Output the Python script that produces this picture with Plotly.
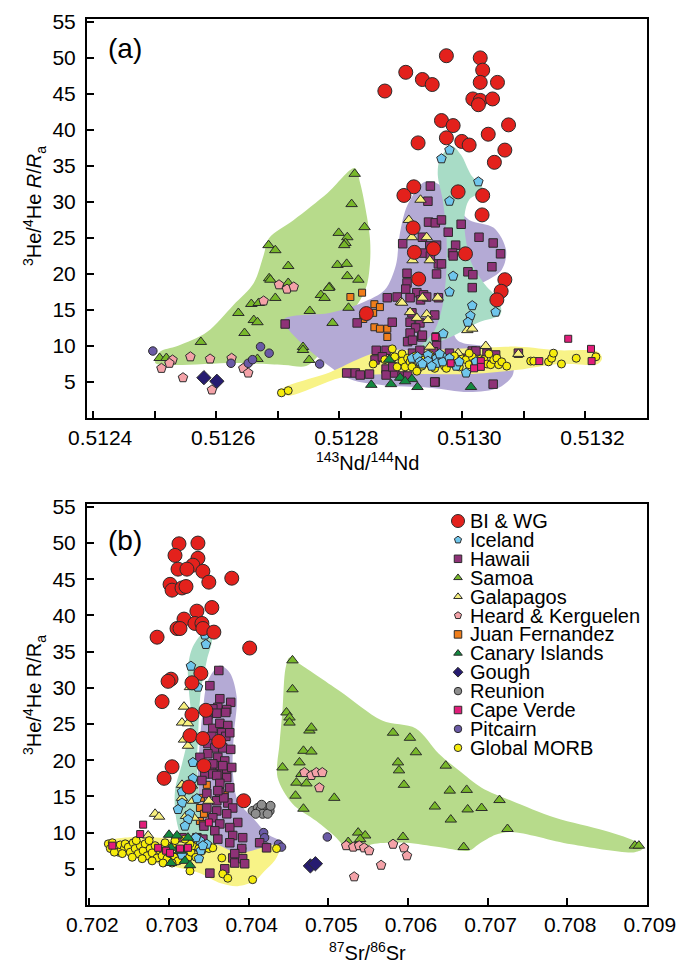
import plotly.graph_objects as go

# page body has an 8px margin: the figure is sized so it ends at the window edge
PAGE_W, PAGE_H, OFF = 694, 964, 8
W, H = PAGE_W - OFF, PAGE_H - OFF
FONT = "Liberation Sans, Arial, sans-serif"

# ---------------- panel (a): 3He/4He vs 143Nd/144Nd ----------------
biwg_a_nd = [0.512974,0.513029,0.513033,0.512908,0.512935,0.512951,0.512874,0.513029,0.513057,0.513017,
             0.513029,0.513026,0.513049,0.512966,0.512985,0.513075,0.512974,0.513042,0.512928,0.512999,
             0.513011,0.513069,0.513052,0.512993,0.513033,0.512921,0.512905,0.513032,0.512920,0.512953,
             0.512922,0.513005,0.512929,0.513069,0.513063,0.513056,0.512844]
biwg_a_he = [50.3,50.0,48.3,48.0,47.0,46.3,45.4,46.6,46.6,44.3,44.1,43.5,44.3,41.3,40.6,40.7,38.9,39.4,38.2,38.4,
             37.9,37.2,35.5,31.4,30.9,32.1,30.9,28.2,26.4,23.5,23.0,22.8,19.3,19.2,17.6,16.4,14.5]

iceland_a_nd = [0.512979,0.512966,0.513026,0.512979,0.512985,0.512979,0.513016,0.513013,0.513009,0.513054,
                0.512969,0.512918,0.512927,0.512931,0.512944,0.512944,0.512958,0.512958,0.512968,0.512968,
                0.512979,0.512990,0.512995,0.513006,0.513022,0.512935,0.512963,0.512950]
iceland_a_he = [37.2,36.0,32.8,30.1,19.7,17.5,15.6,14.2,13.3,14.7,11.7,8.3,8.5,7.8,8.75,7.9,8.3,7.6,8.5,7.8,
                8.3,7.2,7.8,6.25,7.8,7.5,8.9,7.2]

hawaii_a_nd = [0.512948,0.512944,0.512945,0.512956,0.512966,0.512977,0.512998,0.513027,0.513050,0.513062,
               0.512989,0.512984,0.512985,0.512961,0.512966,0.512958,0.512947,0.512937,0.512948,0.512903,
               0.513009,0.513017,0.513048,0.513016,0.512958,0.512910,0.512910,0.512908,0.512926,0.512932,
               0.512915,0.512937,0.512961,0.512878,0.512894,0.512942,0.512935,
               0.512886,0.512829,0.512918,0.512915,0.512931,0.512924,0.512915,0.512911,0.512934,0.512958,
               0.512958,0.512955,0.512935,0.512919,0.512712,
               0.512860,0.512876,0.512858,0.512870,0.512812,0.512826,0.512834,0.512849,0.512876,0.512876,
               0.512890,0.512902,0.512911,0.512887,0.512956,0.513050,0.513016,0.513022,0.513040,0.513054,
               0.513091,0.512919,0.512931,0.512953,0.512979,0.513003,0.512955]
hawaii_a_he = [32.2,30.1,27.2,27.1,27.5,25.8,26.9,25.1,24.3,22.8,
               24.0,22.9,22.5,21.4,21.4,24.0,23.9,22.9,22.5,24.2,
               20.3,19.9,21.0,18.1,20.0,20.1,18.75,17.9,17.4,16.4,
               16.7,17.1,16.7,16.7,16.8,16.8,25.1,
               13.3,13.2,14.6,13.3,13.2,12.5,11.8,10.6,11.25,10.1,
               11.25,14.3,11.5,10.8,13.05,
               9.4,9.4,8.06,8.5,6.25,6.25,5.97,6.1,6.8,5.97,
               6.25,5.83,5.83,7.1,5.0,4.7,9.3,9.3,9.0,8.75,
               9.0,9.0,9.4,9.2,9.0,8.3,5.0]

samoa_a_nd = [0.512508,0.512519,0.512575,0.512636,0.512646,0.512657,0.512669,0.512661,0.512667,0.512685,
              0.512696,0.512686,0.512688,0.512717,0.512717,0.512696,0.512667,0.512741,0.512741,0.512751,
              0.512752,0.512770,0.512776,0.512784,0.512789,0.512797,0.512812,0.512813,0.512799,0.512813,
              0.512810,0.512815,0.512825,0.512820,0.512841,0.512808,0.512831,0.512783]
samoa_a_he = [8.33,8.33,10.56,14.58,11.8,15.83,15.97,13.6,13.3,24.0,
              23.3,19.4,19.2,21.1,18.75,16.67,8.2,9.86,9.44,8.06,
              14.86,17.08,16.67,18.2,13.2,21.25,21.4,19.7,25.7,25.1,
              24.3,15.3,33.9,29.7,26.5,24.0,19.2,18.06]

galapagos_a_nd = [0.512932,0.512913,0.512918,0.512942,0.512919,0.512947,0.512900,0.512935,0.512960,0.512926,
                  0.512942,0.512944,0.512915,0.512902,0.513008,0.513016,0.513038,0.513091,0.512993,0.512947,0.512882]
galapagos_a_he = [30.3,27.5,25.1,25.1,21.9,21.9,16.1,16.7,16.7,13.9,
                  14.4,13.6,14.7,16.0,12.2,12.4,10.0,8.9,9.0,9.9,8.1]

heard_a_nd = [0.512529,0.512524,0.512511,0.512546,0.512558,0.512590,0.512625,0.512644,0.512652,0.512593,
              0.512677,0.512702,0.512715,0.512726]
heard_a_he = [8.06,7.6,6.9,5.6,8.5,8.2,8.3,6.9,6.25,3.9,16.25,18.5,17.9,18.2]

juan_a_nd = [0.512818,0.512837,0.512857,0.512866,0.512855,0.512839,0.512857,0.512866,0.512878,0.512878,0.512870]
juan_a_he = [16.8,17.4,15.8,15.4,14.6,13.75,12.6,12.4,12.4,11.25,8.3]

canary_a_nd = [0.512852,0.512884,0.512899,0.512918,0.512927,0.513014,0.512881,0.512907]
canary_a_he = [4.6,4.7,5.6,5.4,4.3,4.3,8.1,5.1]

gough_a_nd = [0.512580,0.512601]
gough_a_he = [5.6,5.1]

pitcairn_a_nd = [0.512497,0.512624,0.512652,0.512659,0.512672,0.512686,0.512768]
pitcairn_a_he = [9.3,7.6,7.6,8.1,9.9,9.0,7.5]

capeverde_a_nd = [0.512956,0.513172,0.513209,0.513125,0.513210,0.512981,0.513030,0.513030,0.513019]
capeverde_a_he = [11.25,11.0,9.6,7.9,7.9,7.6,7.9,7.1,6.9]

morb_a_nd = [0.512706,0.512717,0.512855,0.512886,0.512894,0.512902,0.512902,0.512907,0.512911,0.512915,
             0.512919,0.512927,0.512918,0.512934,0.512926,0.512939,0.512947,0.512955,0.512963,0.512971,
             0.512974,0.512982,0.512990,0.512995,0.513000,0.513006,0.513011,0.513016,0.513021,0.513026,
             0.513030,0.513035,0.513040,0.513046,0.513051,0.513056,0.513059,0.513064,0.513072,0.513111,
             0.513116,0.513140,0.513145,0.513148,0.513161,0.513185,0.513217,0.512947,0.512960,0.513011,
             0.512923,0.512890,0.512874,0.512987,0.513043]
morb_a_he = [3.5,3.8,7.5,9.6,7.1,8.9,7.9,7.1,8.3,7.8,
             7.1,6.7,7.1,7.2,6.5,8.1,7.5,6.9,7.8,7.2,
             6.9,7.6,7.8,7.1,8.2,8.1,7.4,8.5,7.8,7.2,
             8.2,8.1,7.5,7.4,8.1,8.3,7.4,7.8,7.2,7.9,
             7.9,7.8,8.3,9.0,7.5,8.3,8.5,8.8,8.5,9.0,
             8.6,8.5,8.1,8.6,8.9]

# field outlines (a)
samoa_field_a_nd = [0.512501,0.512508,0.512537,0.512585,0.512628,0.512661,0.512677,0.512686,0.512726,0.512781,
                    0.512825,0.512834,0.512845,0.512850,0.512850,0.512845,0.512834,0.512810,0.512791,0.512767,
                    0.512746,0.512710,0.512630,0.512529]
samoa_field_a_he = [7.64,9.17,10.0,11.94,15.7,18.75,22.6,25.0,27.5,31.25,
                    34.7,32.6,27.9,24.7,21.7,18.5,16.4,13.6,11.5,8.75,
                    7.22,7.36,7.64,7.36]
hawaii_field_a_nd = [0.512710,0.512786,0.512837,0.512874,0.512892,0.512898,0.512911,0.512939,0.512963,0.512982,
                     0.513011,0.513051,0.513071,0.513064,0.513035,0.512998,0.512982,0.512992,0.513043,0.513079,
                     0.513082,0.513059,0.513011,0.512947,0.512866,0.512810]
hawaii_field_a_he = [13.6,14.6,16.0,17.8,21.25,25.4,29.6,32.8,32.4,30.3,
                     27.5,26.4,23.3,20.6,18.9,17.5,14.3,10.8,9.9,8.75,
                     6.0,4.2,3.6,4.2,4.6,5.7]
iceland_field_a_nd = [0.512963,0.512982,0.512998,0.513014,0.513034,0.513011,0.513003,0.513014,0.513037,0.513059,
                      0.513062,0.513027,0.512987,0.512931,0.512955,0.512968,0.512974,0.512974,0.512968,0.512960]
iceland_field_a_he = [35.8,37.8,36.5,33.75,31.7,30.3,27.5,21.7,18.5,16.4,
                      14.4,13.3,11.5,9.7,12.2,15.7,20.6,25.4,30.3,33.75]
morb_field_a_nd = [0.512702,0.512709,0.512786,0.512834,0.512874,0.512931,0.513011,0.513091,0.513156,0.513220,
                   0.513227,0.513220,0.513156,0.513091,0.513011,0.512931,0.512850,0.512802,0.512718]
morb_field_a_he = [3.5,4.2,6.4,8.3,9.4,9.4,9.7,9.9,9.4,9.2,
                   8.3,7.5,7.5,6.7,6.1,6.1,6.0,5.6,3.1]

# ---------------- panel (b): 3He/4He vs 87Sr/86Sr ----------------
biwg_b_sr = [0.703125,0.703363,0.703075,0.703363,0.703300,0.703113,0.703225,0.703425,0.703500,0.703788,
             0.703013,0.703038,0.703163,0.703213,0.703538,0.703350,0.703188,0.703325,0.703413,0.703425,
             0.703100,0.703563,0.702850,0.704013,0.703025,0.702988,0.703400,0.703288,0.702913,0.703463,
             0.703288,0.703263,0.703425,0.703625,0.703038,0.702938,0.703438,0.703250,0.703938,0.703138]
biwg_b_he = [49.9,50.0,48.3,47.9,46.95,46.4,46.4,46.1,44.6,45.15,
             44.3,43.5,43.8,44.0,41.1,40.6,39.5,38.9,38.9,38.2,
             38.2,37.7,37.0,35.5,31.2,30.9,32.0,30.7,28.1,26.9,
             26.3,23.4,23.0,22.6,19.1,17.5,19.25,16.3,14.4,38.2]

iceland_b_sr = [0.703450,0.703463,0.703275,0.703363,0.703300,0.703300,0.703163,0.703163,0.703350,0.703263,
                0.703238,0.703200,0.703388,0.703475,0.703163,0.703375,0.703338,0.703400,0.703113,0.703425]
iceland_b_he = [37.3,36.0,33.0,30.1,19.7,17.5,15.65,14.1,14.7,12.6,
                11.8,10.9,8.9,8.4,6.9,6.4,9.3,7.5,13.2,8.2]

hawaii_b_sr = [0.703625,0.703513,0.703638,0.703775,0.703613,0.703725,0.703550,0.703488,0.703600,0.703713,
               0.703488,0.703550,0.703638,0.703738,0.703663,0.703713,0.703763,0.703538,0.703488,0.703575,
               0.703675,0.703775,0.703488,0.703613,0.703700,0.703638,0.703513,0.703450,0.703550,0.703663,
               0.703725,0.703388,0.703550,0.703675,0.703788,0.703600,0.703725,0.703413,0.703638,0.703763,
               0.703475,0.703638,0.703600,0.703738,0.703800,0.703475,0.703600,0.703725,0.703550,0.703638,
               0.703863,0.703438,0.703575,0.703763,0.703800,0.703925,0.703163,0.703263,0.703350,0.703425,
               0.703613,0.703763,0.703913,0.703800,0.703825,0.703925,0.703950,0.703700,0.703513,0.704138,
               0.704225,0.703825,0.703688,0.703613]
hawaii_b_he = [32.4,30.3,28.5,28.0,27.3,27.0,27.1,26.3,26.5,26.6,
               25.5,24.4,25.1,24.8,23.8,23.3,23.8,23.3,22.3,21.7,
               21.7,21.5,20.9,20.4,19.9,19.25,19.0,18.1,18.1,18.1,
               18.8,20.4,19.5,19.25,19.0,17.9,17.6,17.2,16.8,16.2,
               15.4,15.5,14.4,14.1,13.4,13.4,13.0,12.6,12.05,11.2,
               11.4,10.9,10.25,10.7,9.6,9.3,9.3,8.9,9.3,9.1,
               9.1,8.6,7.8,6.5,5.8,6.4,5.7,5.0,4.4,8.6,
               7.9,7.1,14.8,15.8]

samoa_b_sr = [0.704550,0.704550,0.704475,0.704513,0.704513,0.704763,0.704788,0.704688,0.704788,0.704638,
              0.704425,0.704663,0.704600,0.704725,0.704588,0.705075,0.704688,0.705813,0.706025,0.706100,
              0.705875,0.705888,0.705950,0.706475,0.706525,0.706738,0.706338,0.706750,0.706925,0.707150,
              0.706538,0.707250,0.705375,0.705463,0.705400,0.705338,0.705938,0.706700,0.708850,0.708900,
              0.705250]
samoa_b_he = [33.8,29.8,26.6,25.9,25.2,24.1,24.5,21.3,21.2,19.7,
              19.0,18.1,16.9,16.8,15.1,14.8,13.3,23.8,23.1,21.1,
              19.7,18.6,16.6,19.25,15.8,15.9,13.6,13.2,13.4,14.5,
              11.8,10.5,10.0,9.6,9.1,8.0,9.4,8.0,8.2,8.2,
              8.7]

galapagos_b_sr = [0.703263,0.703188,0.703163,0.703238,0.703188,0.703238,0.703163,0.703288,0.703300,0.703500,
                  0.703163,0.702825,0.702875,0.702738,0.703213,0.703313]
galapagos_b_he = [30.1,27.4,25.2,25.1,22.85,22.0,16.6,16.5,14.4,14.4,
                  14.8,12.6,12.2,9.6,12.3,12.05]

heard_b_sr = [0.704700,0.704788,0.704850,0.704925,0.704888,0.705225,0.705313,0.705388,0.705450,0.705513,
              0.705813,0.705950,0.705988,0.705663,0.705325]
heard_b_he = [18.3,17.9,18.3,18.3,16.2,8.2,8.0,8.2,7.9,7.5,8.4,7.9,6.8,5.5,3.9]

juan_b_sr = [0.703475,0.703400,0.703388,0.703463,0.703438,0.703388,0.703700,0.703425]
juan_b_he = [16.6,14.8,13.4,13.4,12.6,11.6,15.2,11.2]

canary_b_sr = [0.703000,0.703100,0.703238,0.703025,0.703200,0.703263,0.703025,0.703138]
canary_b_he = [9.7,9.6,9.3,5.8,6.1,5.5,7.9,7.5]

gough_b_sr = [0.704775,0.704838]
gough_b_he = [5.4,5.7]

reunion_b_sr = [0.704050,0.704113,0.704150,0.704213,0.704263,0.704175,0.704238,0.704088,0.704275,0.704163]
reunion_b_he = [13.0,13.4,13.2,13.4,13.0,12.6,12.6,12.6,13.7,13.85]

capeverde_b_sr = [0.702675,0.702638,0.702288,0.702863,0.702963,0.703138,0.703500,0.703238,0.703013]
capeverde_b_he = [11.1,9.8,8.2,7.9,7.5,7.8,11.4,7.9,7.2]

pitcairn_b_sr = [0.704188,0.704200,0.704225,0.703913,0.704375,0.704413,0.704988]
pitcairn_b_he = [10.0,9.3,8.0,7.8,8.4,8.0,9.4]

morb_b_sr = [0.702238,0.702288,0.702338,0.702388,0.702438,0.702363,0.702450,0.702488,0.702513,0.702550,
             0.702575,0.702613,0.702638,0.702675,0.702700,0.702725,0.702763,0.702788,0.702825,0.702850,
             0.702888,0.702913,0.702950,0.702975,0.703013,0.703038,0.703075,0.703113,0.703138,0.703175,
             0.703213,0.703238,0.703275,0.703313,0.703338,0.703375,0.703413,0.703450,0.703500,0.703550,
             0.702263,0.702413,0.702538,0.702663,0.702788,0.702925,0.702588,0.702750,0.703075,0.703263,
             0.703038,0.703263,0.703663,0.703675,0.703738,0.704050,0.704350,0.703200,0.703363,0.702313]
morb_b_he = [8.45,8.6,8.0,8.3,7.8,7.3,8.45,8.0,7.3,8.6,
             7.8,7.1,8.2,7.5,8.45,6.8,7.8,7.2,8.2,6.5,
             7.5,6.8,8.6,6.4,7.1,8.2,6.6,6.1,7.3,6.9,
             7.8,6.5,7.3,8.2,6.6,7.8,7.5,8.0,7.8,7.9,
             7.8,7.1,6.6,6.4,6.1,5.8,8.9,8.9,8.9,8.45,
             5.8,4.7,6.5,4.3,3.7,3.5,7.8,9.1,8.9,7.3]

# field outlines (b)
samoa_field_b_sr = [0.704513,0.704613,0.705138,0.705675,0.706100,0.706388,0.706638,0.706925,0.707300,0.707850,
                    0.708475,0.708888,0.708950,0.708850,0.708050,0.707300,0.707100,0.706888,0.706763,0.706388,
                    0.705975,0.705550,0.705300,0.705225,0.705100,0.704850,0.704550,0.704363,0.704388,0.704425,
                    0.704463]
samoa_field_b_he = [34.2,33.5,29.6,25.5,24.4,20.9,18.6,16.2,14.4,12.05,
                    10.25,8.6,7.8,7.3,8.4,10.1,9.7,8.4,7.5,8.0,
                    8.6,8.4,7.5,7.8,9.3,11.6,14.0,17.6,22.3,26.9,
                    32.7]
hawaii_field_b_sr = [0.703638,0.703763,0.703850,0.703813,0.703800,0.703863,0.704050,0.704238,0.704413,0.704263,
                     0.704050,0.703888,0.703725,0.703550,0.703450,0.703325,0.703138,0.703113,0.703325,0.703388,
                     0.703363,0.703388,0.703425,0.703488]
hawaii_field_b_he = [33.1,32.1,28.7,23.4,18.6,14.4,12.05,9.8,8.6,7.3,
                     6.5,4.85,4.2,4.7,5.8,7.5,8.2,9.6,10.25,13.0,
                     17.6,22.7,26.9,31.0]
iceland_field_b_sr = [0.703450,0.703538,0.703475,0.703400,0.703375,0.703363,0.703350,0.703375,0.703400,0.703513,
                      0.703600,0.703488,0.703363,0.703263,0.703163,0.703088,0.703075,0.703163,0.703225,0.703275,
                      0.703250,0.703238,0.703300]
iceland_field_b_he = [37.7,37.0,33.8,29.6,25.9,22.7,19.9,15.8,12.7,10.9,
                      9.1,7.2,5.8,6.5,8.9,12.05,15.8,19.5,22.4,25.9,
                      29.6,32.8,35.7]
morb_field_b_sr = [0.702200,0.702550,0.702888,0.703263,0.703575,0.703863,0.704138,0.704338,0.704388,0.704325,
                   0.704200,0.704075,0.703863,0.703650,0.703388,0.703138,0.702888,0.702550,0.702263]
morb_field_b_he = [8.7,9.4,9.3,8.9,8.45,7.2,7.8,8.3,7.8,6.1,
                   4.7,3.3,2.6,3.0,4.4,5.1,5.7,6.5,7.6]

# ---------------- ticks ----------------
nd_major = [0.5124,0.5126,0.5128,0.5130,0.5132]
nd_major_labels = ["0.5124","0.5126","0.5128","0.5130","0.5132"]
nd_minor = [0.5125,0.5127,0.5129,0.5131]
sr_ticks = [0.702,0.703,0.704,0.705,0.706,0.707,0.708,0.709]
sr_labels = ["0.702","0.703","0.704","0.705","0.706","0.707","0.708","0.709"]
he_ticks = [5,10,15,20,25,30,35,40,45,50,55]
he_labels = [str(v) for v in he_ticks]

# ---------------- styles ----------------
names = ["BI & WG","Iceland","Hawaii","Samoa","Galapagos","Heard & Kerguelen","Juan Fernandez",
         "Canary Islands","Gough","Reunion","Cape Verde","Pitcairn","Global MORB"]
style = {
    "BI & WG":           dict(symbol="circle",        color="#e3211c", size=14),
    "Iceland":           dict(symbol="pentagon",      color="#6fc6ec", size=10),
    "Hawaii":            dict(symbol="square",        color="#8e3277", size=8.5),
    "Samoa":             dict(symbol="triangle-up",   color="#78b82a", size=10),
    "Galapagos":         dict(symbol="triangle-up",   color="#f7f07e", size=10),
    "Heard & Kerguelen": dict(symbol="pentagon",      color="#f4a2a8", size=10),
    "Juan Fernandez":    dict(symbol="square",        color="#f07e1b", size=7),
    "Canary Islands":    dict(symbol="triangle-up",   color="#13893f", size=10),
    "Gough":             dict(symbol="diamond",       color="#261b70", size=11),
    "Reunion":           dict(symbol="circle",        color="#8e8e8e", size=9),
    "Cape Verde":        dict(symbol="square",        color="#e11d7a", size=7),
    "Pitcairn":          dict(symbol="circle",        color="#6a5aa6", size=8.5),
    "Global MORB":       dict(symbol="circle",        color="#f6ec0c", size=8),
}
legend_size = {"BI & WG": 13}

fields = {"Samoa": "#b7db8b", "Hawaii": "#b4aad5", "Iceland": "#a8dcc6", "Global MORB": "#f8f387"}

fig = go.Figure()

def add_field(xs, ys, color, xa, ya):
    fig.add_trace(go.Scatter(x=xs + xs[:1], y=ys + ys[:1], mode="lines", fill="toself",
                             fillcolor=color, line=dict(width=0, color=color, shape="spline", smoothing=0.9),
                             hoverinfo="skip", showlegend=False, xaxis=xa, yaxis=ya))

def add_pts(name, xs, ys, xa, ya):
    s = style[name]
    fig.add_trace(go.Scatter(x=xs, y=ys, mode="markers", name=name, showlegend=False,
                             marker=dict(symbol=s["symbol"], color=s["color"], size=s["size"],
                                         line=dict(color="#2b2b2b", width=1)),
                             xaxis=xa, yaxis=ya, cliponaxis=False))

# panel (a)
add_field(samoa_field_a_nd, samoa_field_a_he, fields["Samoa"], "x", "y")
add_field(hawaii_field_a_nd, hawaii_field_a_he, fields["Hawaii"], "x", "y")
add_field(iceland_field_a_nd, iceland_field_a_he, fields["Iceland"], "x", "y")
add_field(morb_field_a_nd, morb_field_a_he, fields["Global MORB"], "x", "y")
for nm, xs, ys in [("Samoa", samoa_a_nd, samoa_a_he), ("Heard & Kerguelen", heard_a_nd, heard_a_he),
                   ("Pitcairn", pitcairn_a_nd, pitcairn_a_he), ("Gough", gough_a_nd, gough_a_he),
                   ("Juan Fernandez", juan_a_nd, juan_a_he), ("Hawaii", hawaii_a_nd, hawaii_a_he),
                   ("Galapagos", galapagos_a_nd, galapagos_a_he), ("Global MORB", morb_a_nd, morb_a_he),
                   ("Iceland", iceland_a_nd, iceland_a_he), ("Canary Islands", canary_a_nd, canary_a_he),
                   ("Cape Verde", capeverde_a_nd, capeverde_a_he), ("BI & WG", biwg_a_nd, biwg_a_he)]:
    add_pts(nm, xs, ys, "x", "y")

# panel (b)
add_field(samoa_field_b_sr, samoa_field_b_he, fields["Samoa"], "x2", "y2")
add_field(hawaii_field_b_sr, hawaii_field_b_he, fields["Hawaii"], "x2", "y2")
add_field(iceland_field_b_sr, iceland_field_b_he, fields["Iceland"], "x2", "y2")
add_field(morb_field_b_sr, morb_field_b_he, fields["Global MORB"], "x2", "y2")
for nm, xs, ys in [("Samoa", samoa_b_sr, samoa_b_he), ("Heard & Kerguelen", heard_b_sr, heard_b_he),
                   ("Pitcairn", pitcairn_b_sr, pitcairn_b_he), ("Gough", gough_b_sr, gough_b_he),
                   ("Reunion", reunion_b_sr, reunion_b_he),
                   ("Juan Fernandez", juan_b_sr, juan_b_he), ("Hawaii", hawaii_b_sr, hawaii_b_he),
                   ("Galapagos", galapagos_b_sr, galapagos_b_he), ("Global MORB", morb_b_sr, morb_b_he),
                   ("Iceland", iceland_b_sr, iceland_b_he), ("Canary Islands", canary_b_sr, canary_b_he),
                   ("Cape Verde", capeverde_b_sr, capeverde_b_he), ("BI & WG", biwg_b_sr, biwg_b_he)]:
    add_pts(nm, xs, ys, "x2", "y2")

# manual legend: markers on a full-page overlay axis measured in page pixels
LEG_X, LEG_Y0, LEG_DY = 458, 521, 18.9
for i, nm in enumerate(names):
    s = style[nm]
    fig.add_trace(go.Scatter(x=[LEG_X], y=[LEG_Y0 + i * LEG_DY], mode="markers", showlegend=False,
                             marker=dict(symbol=s["symbol"], color=s["color"],
                                         size=legend_size.get(nm, 7.5),
                                         line=dict(color="#2b2b2b", width=1)),
                             xaxis="x3", yaxis="y3", hoverinfo="skip"))

def px_x(p): return (p - OFF) / W
def px_y(p): return 1 - (p - OFF) / H

axis_common = dict(showline=True, linecolor="black", linewidth=2, mirror=True, ticks="inside",
                   ticklen=7, tickwidth=1.5, tickcolor="black", showgrid=False, zeroline=False,
                   tickfont=dict(family=FONT, size=21, color="black"))

fig.update_layout(
    width=W, height=H, margin=dict(l=0, r=0, t=0, b=0),
    paper_bgcolor="white", plot_bgcolor="rgba(0,0,0,0)", template="none", showlegend=False,
    font=dict(family=FONT, color="black"),
    xaxis=dict(domain=[px_x(87), px_x(647)], range=[0.51239, 0.51330], anchor="y",
               tickvals=nd_major, ticktext=nd_major_labels, ticklabelshift=7,
               minor=dict(tickvals=nd_minor, ticks="inside", ticklen=7, tickwidth=1.5, tickcolor="black",
                          showgrid=False),
               **axis_common),
    yaxis=dict(domain=[px_y(418), px_y(19)], range=[0, 55.4], anchor="x",
               tickvals=he_ticks, ticktext=he_labels, ticklabelstandoff=5, **axis_common),
    xaxis2=dict(domain=[px_x(87), px_x(647)], range=[0.70197, 0.709002], anchor="y2",
                tickvals=sr_ticks, ticktext=sr_labels, ticklabelshift=3, **axis_common),
    yaxis2=dict(domain=[px_y(905), px_y(504)], range=[0, 55.4], anchor="x2",
                tickvals=he_ticks, ticktext=he_labels, ticklabelstandoff=5, **axis_common),
    xaxis3=dict(domain=[0, 1], range=[OFF, PAGE_W], visible=False, anchor="y3", fixedrange=True),
    yaxis3=dict(domain=[0, 1], range=[PAGE_H, OFF], visible=False, anchor="x3", fixedrange=True),
)

ann = []
for i, nm in enumerate(names):
    ann.append(dict(x=px_x(468), y=px_y(LEG_Y0 + i * LEG_DY), xref="paper", yref="paper",
                    text=nm, showarrow=False, xanchor="left", yanchor="middle",
                    font=dict(family=FONT, size=20, color="black")))
ann += [
    dict(x=px_x(106), y=px_y(48), text="(a)", showarrow=False, xanchor="left", yanchor="middle",
         xref="paper", yref="paper", font=dict(family=FONT, size=28, color="black")),
    dict(x=px_x(106), y=px_y(540), text="(b)", showarrow=False, xanchor="left", yanchor="middle",
         xref="paper", yref="paper", font=dict(family=FONT, size=28, color="black")),
    dict(x=px_x(367), y=px_y(461), text="<sup>143</sup>Nd/<sup>144</sup>Nd", showarrow=False,
         xref="paper", yref="paper", xanchor="center", yanchor="middle",
         font=dict(family=FONT, size=20, color="black")),
    dict(x=px_x(367), y=px_y(951), text="<sup>87</sup>Sr/<sup>86</sup>Sr", showarrow=False,
         xref="paper", yref="paper", xanchor="center", yanchor="middle",
         font=dict(family=FONT, size=20, color="black")),
    dict(x=px_x(34), y=px_y(206), text="<sup>3</sup>He/<sup>4</sup>He <i>R</i>/<i>R</i><sub>a</sub>",
         showarrow=False, textangle=-90, xref="paper", yref="paper", xanchor="center", yanchor="middle",
         font=dict(family=FONT, size=20, color="black")),
    dict(x=px_x(34), y=px_y(695), text="<sup>3</sup>He/<sup>4</sup>He R/R<sub>a</sub>",
         showarrow=False, textangle=-90, xref="paper", yref="paper", xanchor="center", yanchor="middle",
         font=dict(family=FONT, size=20, color="black")),
]
fig.update_layout(annotations=ann)

fig.write_html("out.html")
